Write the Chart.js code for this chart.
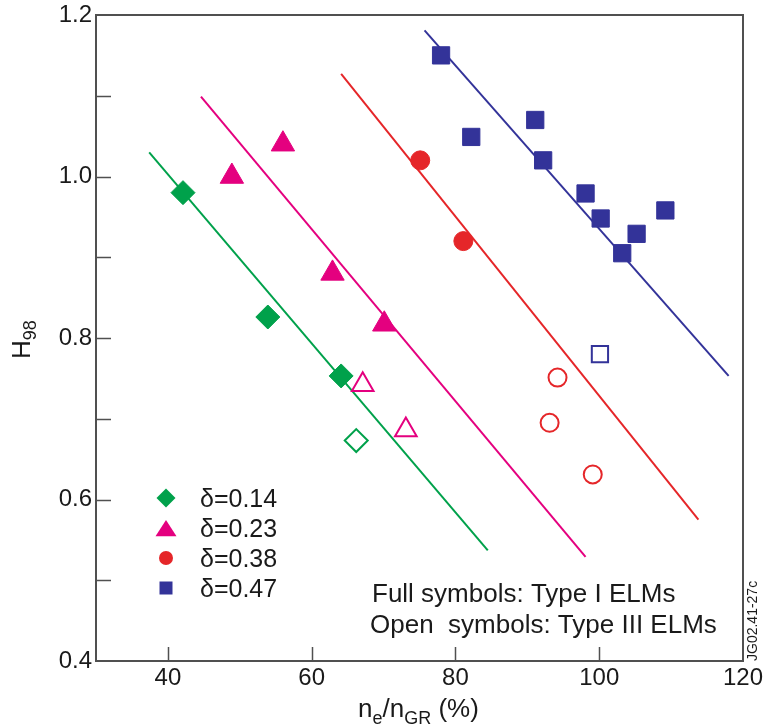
<!DOCTYPE html>
<html>
<head>
<meta charset="utf-8">
<script src="https://cdn.jsdelivr.net/npm/chart.js@4.4.1/dist/chart.umd.min.js"></script>
<style>
  html, body { margin: 0; padding: 0; background: #fff; }
</style>
</head>
<body>
<canvas id="h98Chart" width="763" height="726"></canvas>
<script>
// delta = 0.14 (green diamonds)
const d14FullX = [42.1, 53.9, 64.1];
const d14FullY = [0.980, 0.826, 0.753];
const d14OpenX = [66.2];
const d14OpenY = [0.673];
const d14LineX = [37.4, 84.5];
const d14LineY = [1.030, 0.537];

// delta = 0.23 (magenta triangles)
const d23FullX = [48.9, 56.0, 62.9, 70.1];
const d23FullY = [1.000, 1.040, 0.880, 0.817];
const d23OpenX = [67.1, 73.1];
const d23OpenY = [0.742, 0.686];
const d23LineX = [44.6, 98.1];
const d23LineY = [1.099, 0.529];

// delta = 0.38 (red circles)
const d38FullX = [75.1, 81.1];
const d38FullY = [1.020, 0.920];
const d38OpenX = [94.2, 93.1, 99.1];
const d38OpenY = [0.751, 0.695, 0.631];
const d38LineX = [64.1, 113.8];
const d38LineY = [1.127, 0.575];

// delta = 0.47 (blue squares)
const d47FullX = [78.0, 82.2, 91.1, 92.2, 98.1, 100.2, 105.2, 103.2, 109.2];
const d47FullY = [1.150, 1.049, 1.070, 1.020, 0.979, 0.948, 0.929, 0.905, 0.958];
const d47OpenX = [100.1];
const d47OpenY = [0.780];
const d47LineX = [75.7, 118.0];
const d47LineY = [1.181, 0.753];

const legendLabels = ['\u03b4=0.14', '\u03b4=0.23', '\u03b4=0.38', '\u03b4=0.47'];
const xTickLabels = [40, 60, 80, 100, 120];
const yTickLabels = [0.4, 0.6, 0.8, 1.0, 1.2];

const GREEN = '#00A14B';
const MAGENTA = '#E4007F';
const RED = '#E52629';
const BLUE = '#333399';
const FONT = '"Liberation Sans", Arial, sans-serif';

const pts = (xs, ys) => xs.map((x, i) => ({ x: x, y: ys[i] }));

function fullSet(xs, ys, color, style, r) {
    return { type: 'scatter', data: pts(xs, ys), pointStyle: style, pointRadius: r,
        backgroundColor: color, borderColor: color, borderWidth: 1, order: 0 };
}
function openSet(xs, ys, color, style, r) {
    return { type: 'scatter', data: pts(xs, ys), pointStyle: style, pointRadius: r,
        backgroundColor: 'rgba(255,255,255,0)', borderColor: color, borderWidth: 2, order: 0 };
}
function lineSet(xs, ys, color) {
    return { type: 'line', data: pts(xs, ys), borderColor: color, borderWidth: 2,
        pointRadius: 0, fill: false, order: 1 };
}

// small marker painter for the legend
function marker(ctx, style, x, y, r, color) {
    ctx.fillStyle = color;
    ctx.beginPath();
    if (style === 'diamond') {
        ctx.moveTo(x, y - r); ctx.lineTo(x + r, y); ctx.lineTo(x, y + r); ctx.lineTo(x - r, y);
    } else if (style === 'triangle') {
        ctx.moveTo(x, y - r * 0.85); ctx.lineTo(x + r, y + r * 0.7); ctx.lineTo(x - r, y + r * 0.7);
    } else if (style === 'circle') {
        ctx.arc(x, y, r, 0, Math.PI * 2);
    } else {
        ctx.rect(x - r, y - r, 2 * r, 2 * r);
    }
    ctx.closePath();
    ctx.fill();
}

const framePlugin = {
    id: 'frame',
    afterDraw(chart) {
        const { ctx, chartArea: a, scales } = chart;
        ctx.save();
        // frame
        ctx.strokeStyle = '#505050';
        ctx.lineWidth = 2;
        ctx.strokeRect(a.left, a.top, a.right - a.left, a.bottom - a.top);
        // inward ticks
        ctx.beginPath();
        scales.x.ticks.forEach(t => {
            if (t.value > 30 && t.value < 120 && xTickLabels.includes(t.value)) {
                const px = Math.round(scales.x.getPixelForValue(t.value)) + 0.5;
                ctx.moveTo(px, a.bottom); ctx.lineTo(px, a.bottom - 14);
            }
        });
        scales.y.ticks.forEach(t => {
            if (t.value > 0.41 && t.value < 1.19) {
                const py = Math.round(scales.y.getPixelForValue(t.value)) + 0.5;
                ctx.moveTo(a.left, py); ctx.lineTo(a.left + 15, py);
            }
        });
        ctx.lineWidth = 1.5;
        ctx.stroke();

        ctx.fillStyle = '#1a1a1a';
        ctx.textBaseline = 'alphabetic';
        // x title: ne/nGR (%)
        let x = 358;
        const yb = 717;
        const parts = [['n', 26, 0], ['e', 18, 6.5], ['/n', 26, 0], ['GR', 18, 6.5], [' (%)', 26, 0]];
        parts.forEach(p => {
            ctx.font = p[1] + 'px ' + FONT;
            ctx.fillText(p[0], x, yb + p[2]);
            x += ctx.measureText(p[0]).width;
        });
        // y title: H98
        ctx.save();
        ctx.translate(29.5, 359);
        ctx.rotate(-Math.PI / 2);
        ctx.font = '26px ' + FONT;
        ctx.fillText('H', 0, 0);
        const wH = ctx.measureText('H').width;
        ctx.font = '18px ' + FONT;
        ctx.fillText('98', wH, 6.5);
        ctx.restore();

        // legend
        const shapes = ['diamond', 'triangle', 'circle', 'square'];
        const colors = [GREEN, MAGENTA, RED, BLUE];
        const sizes = [9.5, 10.5, 7, 6.5];
        ctx.font = '25px ' + FONT;
        legendLabels.forEach((lab, i) => {
            const cy = 498 + i * 30;
            marker(ctx, shapes[i], 166, cy + (i === 1 ? 1 : 0), sizes[i], colors[i]);
            ctx.fillStyle = '#1a1a1a';
            ctx.fillText(lab, 200, cy + 9);
        });

        // note
        ctx.font = '26px ' + FONT;
        ctx.fillText('Full symbols: Type I ELMs', 372, 602);
        ctx.fillText('Open  symbols: Type III ELMs', 370, 633);

        // figure id
        ctx.save();
        ctx.translate(757, 661);
        ctx.rotate(-Math.PI / 2);
        ctx.font = '14px ' + FONT;
        ctx.fillText('JG02.41-27c', 0, 0);
        ctx.restore();
        ctx.restore();
    }
};

const tickFont = { family: FONT, size: 24 };

new Chart(document.getElementById('h98Chart').getContext('2d'), {
    type: 'scatter',
    data: {
        datasets: [
            lineSet(d14LineX, d14LineY, GREEN),
            lineSet(d23LineX, d23LineY, MAGENTA),
            lineSet(d38LineX, d38LineY, RED),
            lineSet(d47LineX, d47LineY, BLUE),
            fullSet(d14FullX, d14FullY, GREEN, 'rectRot', 12),
            openSet(d14OpenX, d14OpenY, GREEN, 'rectRot', 11.5),
            fullSet(d23FullX, d23FullY, MAGENTA, 'triangle', 13.5),
            openSet(d23OpenX, d23OpenY, MAGENTA, 'triangle', 12.5),
            fullSet(d38FullX, d38FullY, RED, 'circle', 9.5),
            openSet(d38OpenX, d38OpenY, RED, 'circle', 9),
            fullSet(d47FullX, d47FullY, BLUE, 'rect', 12.2),
            openSet(d47OpenX, d47OpenY, BLUE, 'rect', 11.5)
        ]
    },
    options: {
        responsive: false,
        animation: false,
        devicePixelRatio: 1,
        layout: { padding: { top: 15, right: 20, left: 0, bottom: 0 } },
        plugins: { legend: { display: false }, tooltip: { enabled: false } },
        scales: {
            x: {
                type: 'linear', min: 30, max: 120,
                grid: { display: false, drawTicks: false },
                border: { display: false },
                ticks: {
                    stepSize: 10, autoSkip: false, maxRotation: 0, padding: 3,
                    font: tickFont, color: '#1a1a1a',
                    callback: v => xTickLabels.includes(v) ? String(v) : ''
                },
                afterFit: s => { s.height = 65; s.paddingLeft = 0; s.paddingRight = 0; }
            },
            y: {
                type: 'linear', min: 0.4, max: 1.2,
                grid: { display: false, drawTicks: false },
                border: { display: false },
                ticks: {
                    stepSize: 0.1, autoSkip: false, padding: 4,
                    font: tickFont, color: '#1a1a1a',
                    callback: v => yTickLabels.some(t => Math.abs(t - v) < 1e-6) ? v.toFixed(1) : ''
                },
                afterFit: s => { s.width = 96; s.paddingTop = 0; s.paddingBottom = 0; }
            }
        }
    },
    plugins: [framePlugin]
});
</script>
</body>
</html>
